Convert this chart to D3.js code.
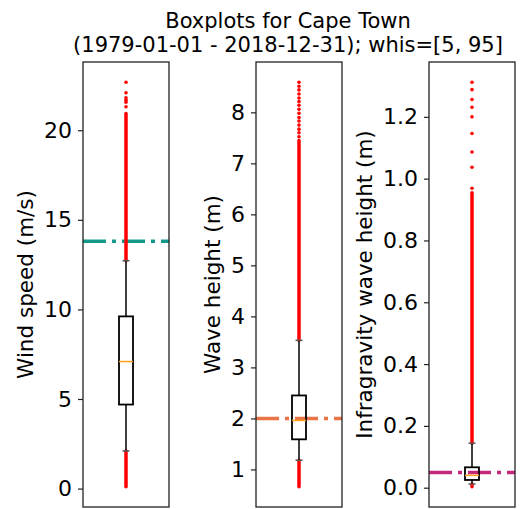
<!DOCTYPE html>
<html>
<head>
<meta charset="utf-8">
<script src="https://cdn.jsdelivr.net/npm/d3@7"></script>
<style>
  body { margin: 0; background: #fff; }
  text { font-family: "DejaVu Sans", sans-serif; fill: #000; }
</style>
</head>
<body>
<svg id="chart" width="530" height="509"></svg>
<script>
// values
const ylabels = ["Wind speed (m/s)", "Wave height (m)", "Infragravity wave height (m)"];
const yticks = [[0, 5, 10, 15, 20], [1, 2, 3, 4, 5, 6, 7, 8], [0, 0.2, 0.4, 0.6, 0.8, 1.0, 1.2]];
const tickFormats = ["d", "d", ".1f"];
const q1 = [4.69, 1.59, 0.025];
const median = [7.09, 1.96, 0.040];
const q3 = [9.61, 2.45, 0.066];
const whisLow = [2.10, 1.18, 0.012];
const whisHigh = [12.72, 3.53, 0.144];
const threshold = [13.8, 2.0, 0.049];
const thresholdColor = ["#12998a", "#ea7445", "#c4287a"];
// ranges so crowded with outliers that they print as a solid line
const fliersDense = [
    [[0.10, 2.10], [12.72, 20.93]],
    [[0.66, 1.18], [3.53, 7.45]],
    [[0.003, 0.012], [0.144, 0.954]]
];
// single outliers that stand apart
const fliersSparse = [
    [21.31, 21.56, 21.68, 21.81, 22.09, 22.68],
    [7.52, 7.60, 7.67, 7.75, 7.83, 7.90, 7.98, 8.06, 8.14, 8.21, 8.28, 8.36, 8.44, 8.51, 8.59],
    [0.969, 1.037, 1.086, 1.146, 1.200, 1.231, 1.256, 1.288, 1.312]
];

const svg = d3.select("#chart");
const plotTop = 62, plotBottom = 507, panelW = 86;
const panelX = [83, 256, 429];
const boxW = 14, capW = 7;

svg.append("text")
    .attr("x", 288).attr("y", 28)
    .attr("text-anchor", "middle")
    .style("font-size", "21px")
    .text("Boxplots for Cape Town");
svg.append("text")
    .attr("x", 288).attr("y", 52)
    .attr("text-anchor", "middle")
    .style("font-size", "21px")
    .text("(1979-01-01 - 2018-12-31); whis=[5, 95]");

ylabels.forEach((lab, i) => {
    const all = fliersDense[i].flat().concat(fliersSparse[i]);
    const lo = d3.min(all), hi = d3.max(all);
    const pad = (hi - lo) * 0.05;
    const y = d3.scaleLinear().domain([lo - pad, hi + pad]).range([plotBottom, plotTop]);
    const x0 = panelX[i];
    const cx = x0 + panelW / 2;

    const g = svg.append("g");

    // threshold line
    g.append("line")
        .attr("x1", x0).attr("x2", x0 + panelW)
        .attr("y1", y(threshold[i])).attr("y2", y(threshold[i]))
        .attr("stroke", thresholdColor[i])
        .attr("stroke-width", 3.5)
        .attr("stroke-dasharray", "23,6,4,6");

    // fliers
    g.selectAll(".dense")
        .data(fliersDense[i])
        .enter().append("line")
        .attr("x1", cx).attr("x2", cx)
        .attr("y1", d => y(d[0])).attr("y2", d => y(d[1]))
        .attr("stroke", "red")
        .attr("stroke-width", 3.5)
        .attr("stroke-linecap", "round");
    g.selectAll(".sparse")
        .data(fliersSparse[i])
        .enter().append("circle")
        .attr("cx", cx).attr("cy", d => y(d))
        .attr("r", 1.8)
        .attr("fill", "red");

    // whiskers and caps
    [[whisLow[i], q1[i]], [q3[i], whisHigh[i]]].forEach(w => {
        g.append("line")
            .attr("x1", cx).attr("x2", cx)
            .attr("y1", y(w[0])).attr("y2", y(w[1]))
            .attr("stroke", "#000").attr("stroke-width", 1.5);
    });
    [whisLow[i], whisHigh[i]].forEach(v => {
        g.append("line")
            .attr("x1", cx - capW / 2).attr("x2", cx + capW / 2)
            .attr("y1", y(v)).attr("y2", y(v))
            .attr("stroke", "#555").attr("stroke-width", 1.5);
    });

    // box and median
    g.append("rect")
        .attr("x", cx - boxW / 2).attr("width", boxW)
        .attr("y", y(q3[i])).attr("height", y(q1[i]) - y(q3[i]))
        .attr("fill", "none")
        .attr("stroke", "#000").attr("stroke-width", 1.8);
    g.append("line")
        .attr("x1", cx - boxW / 2).attr("x2", cx + boxW / 2)
        .attr("y1", y(median[i])).attr("y2", y(median[i]))
        .attr("stroke", "#ff9f1c").attr("stroke-width", 1.5);

    // frame
    g.append("rect")
        .attr("x", x0).attr("y", plotTop)
        .attr("width", panelW).attr("height", plotBottom - plotTop)
        .attr("fill", "none")
        .attr("stroke", "#222").attr("stroke-width", 1.3);

    const axis = g.append("g")
        .attr("transform", `translate(${x0},0)`)
        .call(d3.axisLeft(y).tickValues(yticks[i]).tickFormat(d3.format(tickFormats[i]))
            .tickSize(5).tickPadding(6));
    axis.select(".domain").remove();
    axis.selectAll(".tick line").attr("stroke", "#222").attr("stroke-width", 1.2);
    axis.selectAll(".tick text").style("font-size", "22px").attr("font-family", null);

    const bb = axis.node().getBBox();
    g.append("text")
        .attr("transform", `translate(${x0 + bb.x - 11},${(plotTop + plotBottom) / 2}) rotate(-90)`)
        .attr("text-anchor", "middle")
        .style("font-size", "21.5px")
        .text(lab);
});
</script>
</body>
</html>
